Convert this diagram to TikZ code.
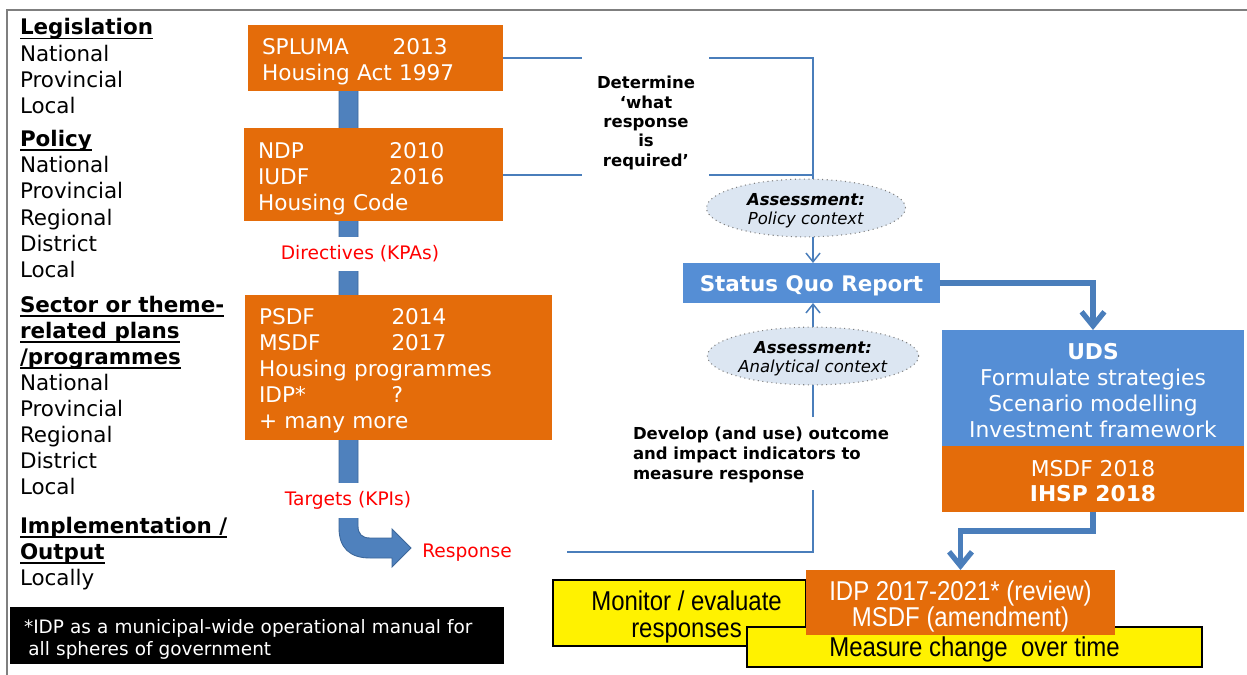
\documentclass[tikz,border=0pt]{standalone}
\usepackage{fontspec}
\setmainfont{DejaVu Sans}
\newfontfamily\narrowf[FakeStretch=0.88]{Liberation Sans}
\usetikzlibrary{arrows.meta,shapes.geometric,calc}
\definecolor{org}{HTML}{E46C0A}
\definecolor{bbox}{HTML}{558ED5}
\definecolor{lblue}{HTML}{4A7EBB}
\definecolor{barblue}{HTML}{4F81BD}
\definecolor{barline}{HTML}{3C679A}
\definecolor{ellf}{HTML}{DCE6F2}
\definecolor{framec}{HTML}{7F7F7F}
\newcommand\hul[1]{\setbox0=\hbox{#1}\rlap{\rule[-2.4pt]{\wd0}{0.9pt}}\box0}
\newcommand\tstrut[1]{\rule{0pt}{#1}}
\begin{document}
\begin{tikzpicture}[x=0.02cm,y=-0.02cm,
  every node/.style={inner sep=0pt,outer sep=0pt},
  obox/.style={fill=org,text=white,align=left,inner xsep=0.28cm,inner ysep=0pt,font=\fontsize{12.3}{14.74}\selectfont},
  lefttxt/.style={anchor=base west,font=\fontsize{12.2}{14.8}\selectfont},
  redlbl/.style={text=red,font=\fontsize{10.6}{12.7}\selectfont},
  thinc/.style={draw=lblue,line width=0.85pt},
  thinarrow/.style={thinc,-{Straight Barb[length=5pt,width=8pt]}},
  thickc/.style={draw=lblue,line width=3pt,-{Straight Barb[length=8pt,width=13pt]}},
  ell/.style={ellipse,fill=ellf,draw=gray,dotted,line width=0.6pt,inner sep=0pt,align=center,font=\fontsize{9.4}{11.3}\selectfont},
  ybox/.style={fill=yellow,draw=black,line width=0.85pt,align=center,font=\narrowf\fontsize{15.5}{15.3}\selectfont},
  bluebox/.style={fill=bbox,text=white,align=center},
]
\useasboundingbox (0,0) rectangle (1247,675);
% frame
\draw[framec,line width=1.2pt] (7,675) -- (7,10) -- (1247,10);

% left column
\node[lefttxt] (h1) at (20,35) {\hul{\textbf{Legislation}}};
\node[lefttxt] (a1) at (20,61.2) {National};
\node[lefttxt] (a2) at (20,87.4) {Provincial};
\node[lefttxt] (a3) at (20,113.6) {Local};
\node[lefttxt] (h2) at (20,146.5) {\hul{\textbf{Policy}}};
\node[lefttxt] (b1) at (20,172.7) {National};
\node[lefttxt] (b2) at (20,198.9) {Provincial};
\node[lefttxt] (b3) at (20,225.1) {Regional};
\node[lefttxt] (b4) at (20,251.3) {District};
\node[lefttxt] (b5) at (20,277.5) {Local};
\node[lefttxt] (h3a) at (20,312.5) {\hul{\textbf{Sector or theme-}}};
\node[lefttxt] (h3b) at (20,338.5) {\hul{\textbf{related plans}}};
\node[lefttxt] (h3c) at (20,364.5) {\hul{\textbf{/programmes}}};
\node[lefttxt] (c1) at (20,390.5) {National};
\node[lefttxt] (c2) at (20,416.5) {Provincial};
\node[lefttxt] (c3) at (20,442.5) {Regional};
\node[lefttxt] (c4) at (20,468.5) {District};
\node[lefttxt] (c5) at (20,494.5) {Local};
\node[lefttxt] (h4a) at (20,533.5) {\hul{\textbf{Implementation /}}};
\node[lefttxt] (h4b) at (20,559.5) {\hul{\textbf{Output}}};
\node[lefttxt] (d1) at (20,585.5) {Locally};

% blue bar with bent arrow
\fill[barblue,draw=barline,line width=0.5pt]
  (339,70) -- (339,528) .. controls (339,548) and (350,558) .. (370,558)
  -- (392,558) -- (392,567) -- (411,548) -- (392,529) -- (392,538) -- (370,538)
  .. controls (362,538) and (358,534) .. (358,526) -- (358,70) -- cycle;

% orange boxes
\node[obox,minimum width=5.10cm,minimum height=1.32cm,text width=4.54cm] (box1) at (375.5,58)
  {\tstrut{13pt}\makebox[74.3pt][l]{SPLUMA}2013\\Housing Act 1997};
\node[obox,minimum width=5.18cm,minimum height=1.86cm,text width=4.62cm] (box2) at (373.5,174.5)
  {\tstrut{13.5pt}\makebox[74.8pt][l]{NDP}2010\\\makebox[74.8pt][l]{IUDF}2016\\Housing Code};
\node[obox,minimum width=6.14cm,minimum height=2.90cm,text width=5.58cm] (box3) at (398.5,367.5)
  {\tstrut{12.5pt}\makebox[75.4pt][l]{PSDF}2014\\\makebox[75.4pt][l]{MSDF}2017\\Housing programmes\\\makebox[75.4pt][l]{IDP*}?\\+ many more};

% red labels
\node[redlbl,fill=white,minimum height=0.7cm,inner xsep=3pt] (dir) at (360,254) {Directives (KPAs)};
\node[redlbl,fill=white,minimum height=0.7cm,inner xsep=3pt] (tar) at (348,500.5) {Targets (KPIs)};
\node[redlbl] (resp) at (467,553) {Response};

% status quo report
\node[bluebox,minimum width=5.14cm,minimum height=0.8cm,font=\bfseries\fontsize{12.2}{14.6}\selectfont] (sqr) at (811.5,283) {\tstrut{12.7pt}Status Quo Report};

% text labels
\node[font=\bfseries\fontsize{9.4}{11.05}\selectfont,align=center] (det) at (646,123)
  {Determine\\‘what\\response\\is\\required’};
\node[font=\bfseries\fontsize{9.4}{11.3}\selectfont,align=left,anchor=west] (dev) at (633,455)
  {Develop (and use) outcome\\and impact indicators to\\measure response};

% thin connectors
\coordinate (j1) at (813,58);
\coordinate (j2) at (813,175);
\coordinate (g1) at (582,58);
\coordinate (g2) at (709,58);
\coordinate (g3) at (582,175);
\coordinate (g4) at (709,175);
\draw[thinc] (box1.east) -- (g1);
\draw[thinc] (g2) -- (j1) -- (j2);
\draw[thinc] (box2.east |- g3) -- (g3);
\draw[thinc] (g4) -- (j2);
\draw[thinarrow] (j2) -- (j2 |- sqr.north);
\coordinate (r1) at (567,552);
\coordinate (r2) at (813,552);
\coordinate (g5) at (813,490);
\coordinate (g6) at (813,417);
\draw[thinc] (r1) -- (r2) -- (g5);
\draw[thinarrow] (g6) -- (g6 |- sqr.south);

% ellipses
\node[ell,minimum width=3.98cm,minimum height=1.06cm] (ell1) at (806,208)
  {\tstrut{10pt}\textbf{\textit{Assessment:}}\\\textit{Policy context}};
\node[ell,minimum width=3.80cm,minimum height=1.12cm] (ell2) at (813,356)
  {\tstrut{10pt}\textbf{\textit{Assessment:}}\\\textit{Analytical context}};

% UDS block
\node[bluebox,minimum width=6.04cm,minimum height=2.32cm,font=\fontsize{12.4}{14.74}\selectfont] (uds) at (1093,388)
  {\tstrut{12pt}\textbf{UDS}\\Formulate strategies\\Scenario modelling\\Investment framework};
\node[fill=org,text=white,align=center,minimum width=6.04cm,minimum height=1.32cm,font=\fontsize{12.4}{14.74}\selectfont] (ihsp) at (1093,479)
  {\tstrut{11.5pt}MSDF 2018\\\textbf{IHSP 2018}};

% thick arrows
\draw[thickc] (sqr.east) -| (uds.north);

% yellow boxes and IDP
\node[ybox,minimum width=5.06cm,minimum height=1.32cm] (mon) at (679.5,613) {\tstrut{15.8pt}\hspace*{8pt}Monitor / evaluate\\\hspace*{8pt}responses};
\node[ybox,minimum width=9.10cm,minimum height=0.80cm] (meas) at (974.5,647) {\tstrut{14pt}Measure change\ \ over time};
\node[fill=org,text=white,align=center,minimum width=6.18cm,minimum height=1.30cm,font=\narrowf\fontsize{15.5}{14.7}\selectfont] (idp) at (960.5,602.5)
  {\tstrut{15.8pt}IDP 2017-2021* (review)\\MSDF (amendment)};
\coordinate (k1) at (960.5,531);
\draw[thickc] (ihsp.south) |- (k1) -- (idp.north);

% footnote
\node[fill=black,text=white,align=left,minimum width=9.88cm,minimum height=1.14cm,text width=9.32cm,inner xsep=0.28cm,font=\fontsize{10.5}{12.5}\selectfont] (foot) at (257,635.5)
  {\tstrut{12.4pt}*IDP as a municipal-wide operational manual for\\\hspace*{2.5pt}all spheres of government};
\end{tikzpicture}
\end{document}
